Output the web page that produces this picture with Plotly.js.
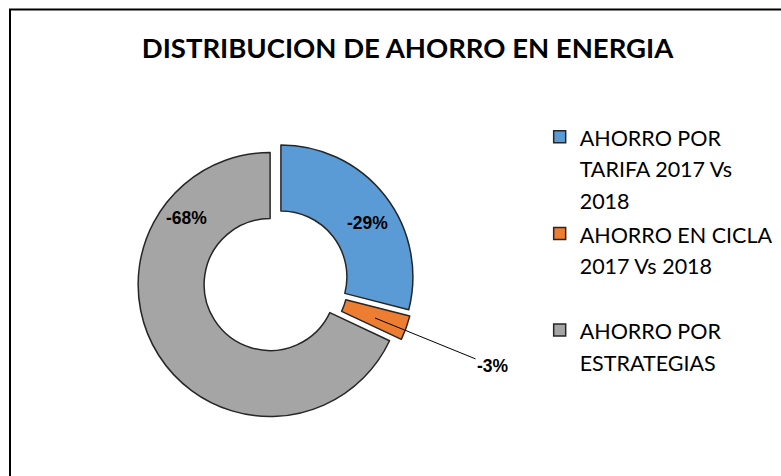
<!DOCTYPE html>
<html><head><meta charset="utf-8">
<script src="https://cdn.plot.ly/plotly-3.0.1.min.js"></script>
<style>html,body{margin:0;padding:0;background:#fff}</style>
</head><body><div id="chart" style="width:781px;height:476px"></div>
<script>
const categories = ["AHORRO POR TARIFA 2017 Vs 2018", "AHORRO EN CICLA 2017 Vs 2018", "AHORRO POR ESTRATEGIAS"];
const savingsPct = [-29, -3, -68];
const legendLines = [["AHORRO POR", "TARIFA 2017 Vs", "2018"], ["AHORRO EN CICLA", "2017 Vs 2018", "\u00a0"], ["AHORRO POR", "ESTRATEGIAS"]];
const sliceColors = ["#5B9BD5", "#ED7D31", "#A5A5A5"];

const legendLabels = legendLines.map(l => '<span style="font-size:21.5px">' + l.join('<br>') + '</span>');
const pctText = savingsPct.map(v => v + '%');

const trace = {
  type: 'pie',
  labels: legendLabels,
  values: savingsPct.map(v => Math.abs(v)),
  customdata: categories,
  sort: false,
  direction: 'clockwise',
  rotation: 0,
  hole: 0.5,
  pull: [0.05, 0.05, 0.05],
  textinfo: 'none',
  hovertemplate: '%{customdata}<extra></extra>',
  marker: { colors: sliceColors, line: { color: '#262626', width: 1.5 } },
  domain: { x: [0.1755, 0.5305], y: [0.1185, 0.7008] }
};

const lblFont = { family: 'Liberation Sans, Arial, sans-serif', size: 17.5, color: '#000' };
const layout = {
  width: 781, height: 476,
  margin: { l: 0, r: 0, t: 0, b: 0 },
  paper_bgcolor: '#fff',
  title: { text: '<b>DISTRIBUCION DE AHORRO EN ENERGIA</b>', x: 0.5218, xanchor: 'center', y: 0.899, yanchor: 'middle',
           font: { family: 'Lato, sans-serif', size: 27.5, color: '#000' } },
  showlegend: true,
  legend: { x: 0.691, xanchor: 'left', y: 0.759, yanchor: 'top', valign: 'top',
            font: { family: 'Lato, sans-serif', size: 24, color: '#000' }, bgcolor: 'rgba(0,0,0,0)' },
  annotations: [
    { xref: 'paper', yref: 'paper', x: 0.470, y: 0.5315, xanchor: 'center', yanchor: 'middle', text: '<b>' + pctText[0] + '</b>', showarrow: false, font: lblFont },
    { xref: 'paper', yref: 'paper', x: 0.4802, y: 0.3319, text: '<b>' + pctText[1] + '</b>', showarrow: true, arrowhead: 0, arrowwidth: 1, arrowcolor: '#000', ax: 118, ay: 48, font: lblFont },
    { xref: 'paper', yref: 'paper', x: 0.2382, y: 0.542, xanchor: 'center', yanchor: 'middle', text: '<b>' + pctText[2] + '</b>', showarrow: false, font: lblFont }
  ],
  shapes: [
    { type: 'rect', xref: 'paper', yref: 'paper', x0: 0.0128, x1: 1.05, y0: -0.05, y1: 0.98, line: { color: '#000', width: 2 } }
  ]
};

Plotly.newPlot('chart', [trace], layout, { displayModeBar: false, staticPlot: true });
</script></body></html>
